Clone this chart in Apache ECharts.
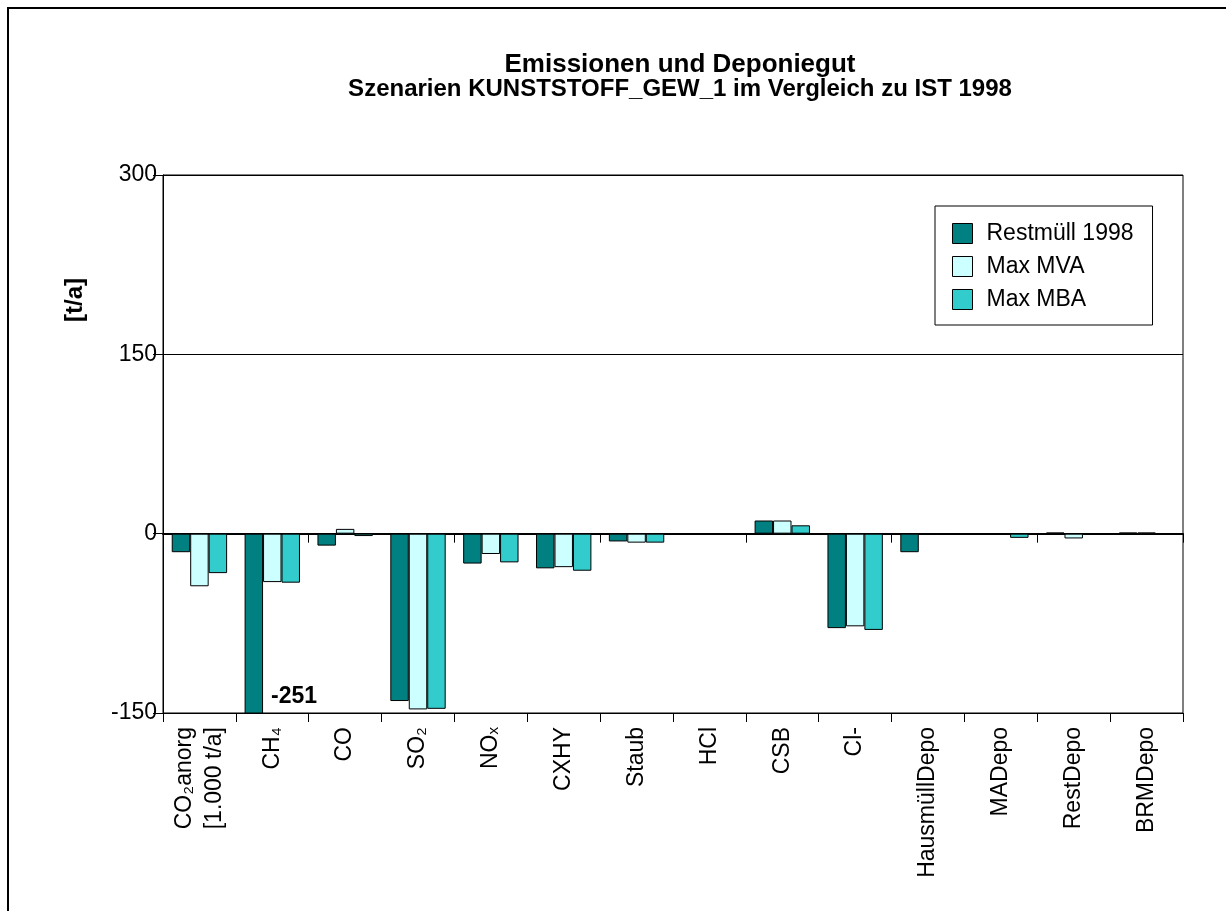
<!DOCTYPE html>
<html>
<head>
<meta charset="utf-8" />
<script src="https://cdn.jsdelivr.net/npm/echarts@6/dist/echarts.min.js"></script>
<style>html,body{margin:0;padding:0;background:#fff;}</style>
</head>
<body>
<div id="main" style="width:1226px;height:911px;"></div>
<script type="text/javascript">
  // Kategorien (Emissionen / Deponiegut)
  var categories = ['CO₂anorg\n[1.000 t/a]', 'CH₄', 'CO', 'SO₂', 'NOₓ', 'CXHY', 'Staub', 'HCl', 'CSB', 'Cl-',
                    'HausmüllDepo', 'MADepo', 'RestDepo', 'BRMDepo'];
  var seriesNames = ['Restmüll 1998', 'Max MVA', 'Max MBA'];
  // Werte [t/a]
  var restmuell = [-15.5, -251, -10, -140, -25, -29, -6.5, -1, 11, -79, -15.5, -0.5, 1, 1];
  var maxMVA    = [-44, -40.5, 4, -147, -17, -28, -7.5, -1, 11, -77.5, -1, -0.5, -4, 1];
  var maxMBA    = [-33, -41, -2, -146.5, -24, -31, -7.5, -1, 7, -80.5, -1, -3.5, -1, -1];
  // Achse
  var yMin = -150, yMax = 300, yStep = 150;

  var font = 'Liberation Sans, Arial, sans-serif';
  var colors = ['#008080', '#CCFFFF', '#33CCCC'];

  // Werte unterhalb der Achse bekommen ein Label mit dem echten Wert
  function withOverflowLabel(arr) {
    return arr.map(function (v) {
      if (v >= yMin) return v;
      return {
        value: v,
        label: {
          show: true, position: ['100%', '100%'], offset: [8, -5],
          align: 'left', verticalAlign: 'bottom',
          fontFamily: font, fontSize: 23, fontWeight: 'bold', color: '#000',
          formatter: '{c}'
        }
      };
    });
  }

  var allData = [withOverflowLabel(restmuell), maxMVA, maxMBA];

  var myChart = echarts.init(document.getElementById('main'));

  var option = {
    backgroundColor: '#fff',
    animation: false,
    color: colors,
    graphic: [
      { type: 'polyline', shape: { points: [[8, 911], [8, 8], [1226, 8]] }, style: { stroke: '#000', lineWidth: 2, fill: null } },
      { type: 'text', x: 680, y: 65, style: { text: 'Emissionen und Deponiegut', fontFamily: font, fontSize: 26, fontWeight: 'bold', fill: '#000', align: 'center', verticalAlign: 'middle' } },
      { type: 'text', x: 680, y: 89, style: { text: 'Szenarien KUNSTSTOFF_GEW_1 im Vergleich zu IST 1998', fontFamily: font, fontSize: 24, fontWeight: 'bold', fill: '#000', align: 'center', verticalAlign: 'middle' } },
      { type: 'text', x: 75, y: 300, rotation: Math.PI / 2, style: { text: '[t/a]', fontFamily: font, fontSize: 24, fontWeight: 'bold', fill: '#000', align: 'center', verticalAlign: 'middle' } }
    ],
    legend: {
      data: seriesNames,
      orient: 'vertical',
      left: 935, top: 206,
      padding: [16, 19, 14, 17],
      itemWidth: 20, itemHeight: 20, itemGap: 10,
      borderColor: '#000', borderWidth: 1, backgroundColor: '#fff',
      icon: 'rect',
      itemStyle: { borderColor: '#000', borderWidth: 1 },
      textStyle: { fontFamily: font, fontSize: 23, color: '#000', padding: [0, 0, 0, 9] }
    },
    grid: {
      left: 163, right: 43, top: 175, bottom: 198,
      show: true, borderColor: '#000', borderWidth: 1
    },
    xAxis: [
      {
        type: 'category', data: categories, position: 'bottom',
        axisLine: { onZero: true, lineStyle: { color: '#000', width: 2 } },
        axisTick: { show: true, length: 9, lineStyle: { color: '#000' } },
        axisLabel: { show: false },
        splitLine: { show: false }
      },
      {
        type: 'category', data: categories, position: 'bottom',
        axisLine: { onZero: false, lineStyle: { color: '#000', width: 1 } },
        axisTick: { show: true, length: 9, lineStyle: { color: '#000' } },
        axisLabel: { interval: 0, rotate: 90, margin: 14, fontFamily: font, fontSize: 23, color: '#000', lineHeight: 30 },
        splitLine: { show: false }
      }
    ],
    yAxis: {
      type: 'value', min: yMin, max: yMax, interval: yStep,
      axisLine: { show: true, onZero: false, lineStyle: { color: '#000' } },
      axisTick: { show: true, length: 10, lineStyle: { color: '#000' } },
      axisLabel: { margin: 6, fontFamily: font, fontSize: 23, color: '#000' },
      splitLine: { show: true, lineStyle: { color: '#000', width: 1 } }
    },
    series: seriesNames.map(function (name, i) {
      return {
        name: name, type: 'bar', xAxisIndex: 0,
        data: allData[i],
        barGap: '0%', barCategoryGap: '24%',
        itemStyle: { color: colors[i], borderColor: '#000', borderWidth: 1 }
      };
    })
  };

  myChart.setOption(option);
</script>
</body>
</html>
